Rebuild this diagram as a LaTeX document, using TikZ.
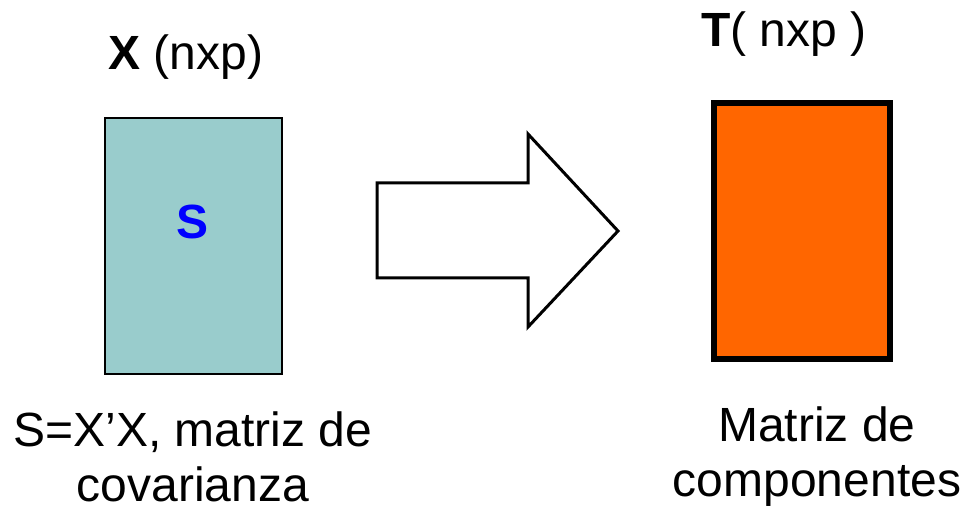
\documentclass[tikz,border=0pt]{standalone}
\usepackage{fontspec}
\setmainfont{Liberation Sans}
\definecolor{tealfill}{HTML}{99CCCC}
\definecolor{orangefill}{HTML}{FF6600}
\definecolor{sblue}{HTML}{0000FF}
\begin{document}
\begin{tikzpicture}[x=1pt,y=1pt,
  label text/.style={inner sep=0pt, font=\fontsize{48}{55}\selectfont},
  caption text/.style={label text, align=center, anchor=base}]
\useasboundingbox (0,0) rectangle (966,508);

% input matrix X
\draw[line width=1.5pt, fill=tealfill] (105,134) rectangle (282,390);
\node[label text, anchor=base, text=sblue] (s) at (193,269) {\textbf{S}};
\node[label text, anchor=base] (xtitle) at (186,438) {\textbf{X} (nxp)};
% base anchor of a multi-line node sits on its last line
\node[caption text] (xcap) at (193,6) {S=X’X, matriz de\\covarianza};

% block arrow
\draw[line width=3pt, line join=miter, fill=white]
  (377,325) -- (528,325) -- (528,374) -- (618,277) -- (528,181) -- (528,230) -- (377,230) -- cycle;

% output matrix T
\draw[line width=6pt, line join=miter, fill=orangefill] (714,149) rectangle (890,405);
\node[label text, anchor=base] (ttitle) at (784,461) {\textbf{T}( nxp )};
\node[caption text] (tcap) at (817,11) {Matriz de\\componentes};
\end{tikzpicture}
\end{document}
